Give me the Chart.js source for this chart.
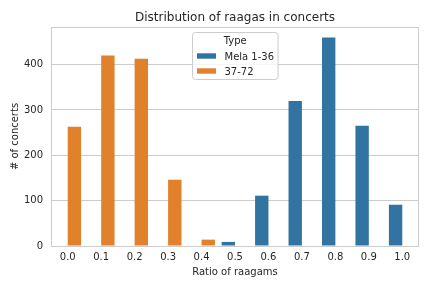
<!DOCTYPE html>
<html>
<head>
<meta charset="utf-8">
<script src="https://cdn.jsdelivr.net/npm/chart.js@4/dist/chart.umd.min.js"></script>
<style>
  html, body { margin: 0; padding: 0; background: #ffffff; }
  #wrap { width: 432px; height: 288px; position: relative; }
</style>
</head>
<body>
<div id="wrap"><canvas id="c" width="432" height="288"></canvas></div>
<script>
// ---- data ----
const categories = ['0.0', '0.1', '0.2', '0.3', '0.4', '0.5', '0.6', '0.7', '0.8', '0.9', '1.0'];
const melaLow = [null, null, null, null, null, 9, 111, 320, 460, 265, 91];
const melaHigh = [263, 420, 413, 146, 14, null, null, null, null, null, null];
const seriesNames = ['Mela 1-36', '37-72'];
const yTicks = [0, 100, 200, 300, 400];
const yMax = 483;
const chartTitle = 'Distribution of raagas in concerts';
const xTitle = 'Ratio of raagams';
const yTitle = '# of concerts';
const legendTitle = 'Type';

const BLUE = '#3274a1';
const ORANGE = '#e1812c';
const TEXT = '#262626';
const EDGE = '#cccccc';
const FONT = 'DejaVu Sans';

const decorPlugin = {
  id: 'decor',
  beforeDatasetsDraw(chart) {
    const { ctx, chartArea: a } = chart;
    ctx.save();
    ctx.strokeStyle = EDGE;
    ctx.lineWidth = 1;
    ctx.strokeRect(Math.round(a.left) + 0.5, Math.round(a.top) + 0.5,
      Math.round(a.right - a.left) - 1, Math.round(a.bottom - a.top));
    ctx.restore();
  },
  afterDraw(chart) {
    const { ctx, chartArea: a } = chart;
    const cx = (a.left + a.right) / 2;
    ctx.save();
    // title
    ctx.fillStyle = TEXT;
    ctx.font = '12px "' + FONT + '"';
    ctx.textAlign = 'center';
    ctx.textBaseline = 'alphabetic';
    ctx.fillText(chartTitle, cx, 21);

    // legend (upper center, inside axes)
    const w = 85.5, h = 47;
    const lx = Math.round(cx - w / 2) + 0.5, ly = a.top + 5.5;
    const r = 3;
    ctx.beginPath();
    ctx.moveTo(lx + r, ly);
    ctx.lineTo(lx + w - r, ly);
    ctx.quadraticCurveTo(lx + w, ly, lx + w, ly + r);
    ctx.lineTo(lx + w, ly + h - r);
    ctx.quadraticCurveTo(lx + w, ly + h, lx + w - r, ly + h);
    ctx.lineTo(lx + r, ly + h);
    ctx.quadraticCurveTo(lx, ly + h, lx, ly + h - r);
    ctx.lineTo(lx, ly + r);
    ctx.quadraticCurveTo(lx, ly, lx + r, ly);
    ctx.closePath();
    ctx.fillStyle = 'rgba(255,255,255,0.8)';
    ctx.fill();
    ctx.strokeStyle = EDGE;
    ctx.lineWidth = 1;
    ctx.stroke();

    ctx.font = '10px "' + FONT + '"';
    ctx.fillStyle = TEXT;
    ctx.textAlign = 'center';
    ctx.fillText(legendTitle, lx + w / 2, ly + 11.5);

    const items = chart.data.datasets;
    ctx.textAlign = 'left';
    items.forEach((ds, i) => {
      const rowY = ly + 23.5 + i * 15;
      ctx.fillStyle = ds.backgroundColor;
      ctx.fillRect(lx + 4.5, rowY - 2.7, 19, 5.4);
      ctx.fillStyle = TEXT;
      ctx.fillText(ds.label, lx + 32, rowY + 3.6);
    });
    ctx.restore();
  }
};

new Chart(document.getElementById('c'), {
  type: 'bar',
  data: {
    labels: categories,
    datasets: [
      { label: seriesNames[0], data: melaLow, backgroundColor: BLUE,
        categoryPercentage: 0.8, barPercentage: 1.0, borderWidth: 0 },
      { label: seriesNames[1], data: melaHigh, backgroundColor: ORANGE,
        categoryPercentage: 0.8, barPercentage: 1.0, borderWidth: 0 }
    ]
  },
  options: {
    responsive: false,
    animation: false,
    devicePixelRatio: 1,
    layout: { padding: { top: 27, right: 13, left: 0, bottom: 0 } },
    plugins: {
      legend: { display: false },
      title: { display: false },
      tooltip: { enabled: false }
    },
    scales: {
      x: {
        type: 'category',
        offset: true,
        grid: { display: false, drawTicks: false },
        border: { display: false },
        ticks: { color: TEXT, font: { family: FONT, size: 10 }, padding: 5, maxRotation: 0 },
        title: { display: true, text: xTitle, color: TEXT,
          font: { family: FONT, size: 10 }, padding: { top: 0, bottom: 10 } },
        afterFit(scale) { scale.height = 42; }
      },
      y: {
        type: 'linear',
        min: 0,
        max: yMax,
        grid: { color: EDGE, lineWidth: 1, drawTicks: false },
        border: { display: false },
        ticks: { color: TEXT, font: { family: FONT, size: 10 }, padding: 8, stepSize: 100 },
        afterBuildTicks(scale) {
          scale.ticks = yTicks.map(v => ({ value: v }));
        },
        title: { display: true, text: yTitle, color: TEXT,
          font: { family: FONT, size: 10 }, padding: { top: 9, bottom: 0 } },
        afterFit(scale) { scale.width = 51; }
      }
    }
  },
  plugins: [decorPlugin]
});
</script>
</body>
</html>
